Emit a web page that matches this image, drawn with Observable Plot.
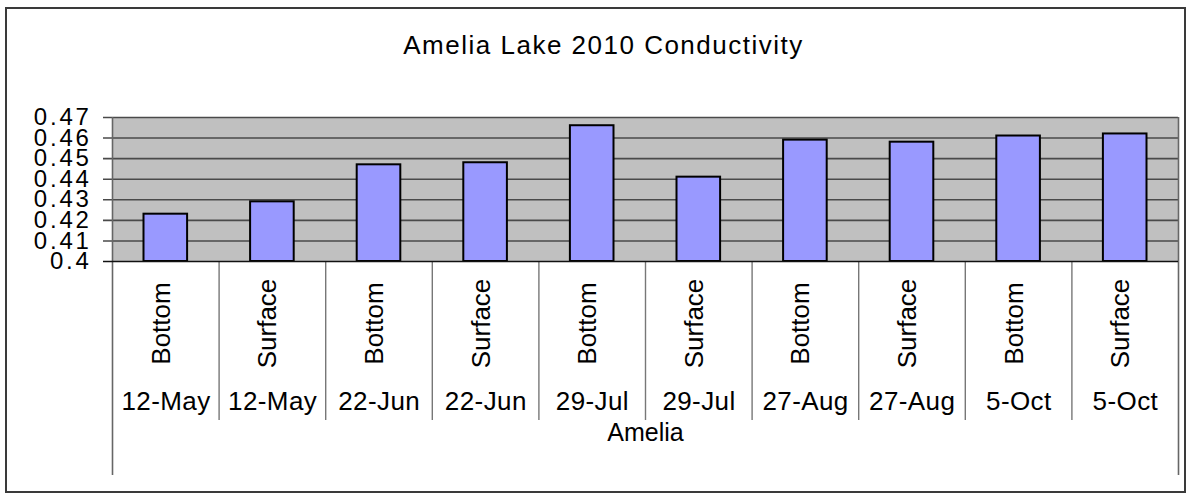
<!DOCTYPE html>
<html>
<head>
<meta charset="utf-8">
<script src="https://cdn.jsdelivr.net/npm/d3@7"></script>
<script src="https://cdn.jsdelivr.net/npm/@observablehq/plot@0.6"></script>
<style>
  body { margin: 0; background: #fff; }
  #chart { position: relative; width: 1189px; height: 495px; font-family: "Liberation Sans", Arial, sans-serif; }
  #chart svg { position: absolute; left: 0; top: 0; }
  #chart .outline { position: absolute; left: 5px; top: 7px; width: 1181px; height: 486px;
    border: 2px solid #3a3a3a; box-sizing: border-box; pointer-events: none; }
</style>
</head>
<body>
<div id="chart"><div class="outline"></div></div>
<script>
// Amelia Lake, 2010: conductivity samples by date and depth
const title = "Amelia Lake 2010 Conductivity";
const site = "Amelia";
const dates = ["12-May", "12-May", "22-Jun", "22-Jun", "29-Jul", "29-Jul", "27-Aug", "27-Aug", "5-Oct", "5-Oct"];
const depths = ["Bottom", "Surface", "Bottom", "Surface", "Bottom", "Surface", "Bottom", "Surface", "Bottom", "Surface"];
const conductivity = [0.423, 0.429, 0.447, 0.448, 0.466, 0.441, 0.459, 0.458, 0.461, 0.462];
const yTicks = [0.4, 0.41, 0.42, 0.43, 0.44, 0.45, 0.46, 0.47];

const rows = conductivity.map((value, i) => ({i, date: dates[i], depth: depths[i], value}));

const W = 1189, H = 495;
const mTop = 117, mBottom = 234, mLeft = 112, mRight = 11;
const frameH = H - mTop - mBottom;
const yBase = yTicks[0];

const plot = Plot.plot({
  width: W,
  height: H,
  marginTop: mTop,
  marginBottom: mBottom,
  marginLeft: mLeft,
  marginRight: mRight,
  style: {fontFamily: "'Liberation Sans', Arial, sans-serif", color: "#000", background: "transparent", overflow: "visible"},
  x: {axis: null, domain: [0, rows.length]},
  y: {axis: null, domain: [yTicks[0], yTicks[yTicks.length - 1]]},
  marks: [
    // grey plot area
    Plot.frame({fill: "#c0c0c0", stroke: "none"}),
    // gridlines, running out to the left as tick marks
    Plot.ruleY(yTicks.slice(1), {stroke: "#4a4a4a", strokeWidth: 1.6, insetLeft: -9}),
    // category separators below the plot: short ones between samples
    Plot.ruleX(rows.slice(1), {x: "i", stroke: "#777", strokeWidth: 1.4, insetTop: frameH, insetBottom: -159}),
    // outer edges, reaching down past the site label row
    Plot.ruleX([0, rows.length], {stroke: "#666", strokeWidth: 1.6, insetBottom: -214}),
    // bars
    Plot.rectY(rows, {
      x1: "i",
      x2: d => d.i + 1,
      y1: () => yBase,
      y2: "value",
      insetLeft: 31.5,
      insetRight: 31.5,
      fill: "#9999ff",
      stroke: "#000",
      strokeWidth: 2
    }),
    // baseline
    Plot.ruleY([yBase], {stroke: "#111", strokeWidth: 1.6, insetLeft: -9}),
    // y tick labels
    Plot.text(yTicks, {y: d => d, text: d => String(d), frameAnchor: "left", dx: -20.8, textAnchor: "end", fontSize: 24, fill: "#000"}),
    // depth labels, rotated
    Plot.text(rows, {x: d => d.i + 0.5, text: "depth", frameAnchor: "bottom", dy: 62, dx: 4, rotate: -90, fontSize: 26, fill: "#000"}),
    // date labels
    Plot.text(rows, {x: d => d.i + 0.5, text: "date", frameAnchor: "bottom", dy: 148, dx: 0.2, fontSize: 26, fill: "#000"}),
    // site label
    Plot.text([site], {text: d => d, frameAnchor: "bottom", dy: 179, fontSize: 25, fill: "#000"}),
    // title
    Plot.text([title], {text: d => d, frameAnchor: "top", dy: -82, dx: -42, fontSize: 26, fill: "#000"})
  ]
});

// letter spacing per text group: y ticks, depths, dates, site, title
const spacing = [2.8, 0, 0.4, 0, 1.5];
d3.select(plot).selectAll('g[aria-label="text"]').each(function (_, k) {
  if (spacing[k]) d3.select(this).attr("letter-spacing", spacing[k]);
});

document.getElementById("chart").prepend(plot);
</script>
</body>
</html>
